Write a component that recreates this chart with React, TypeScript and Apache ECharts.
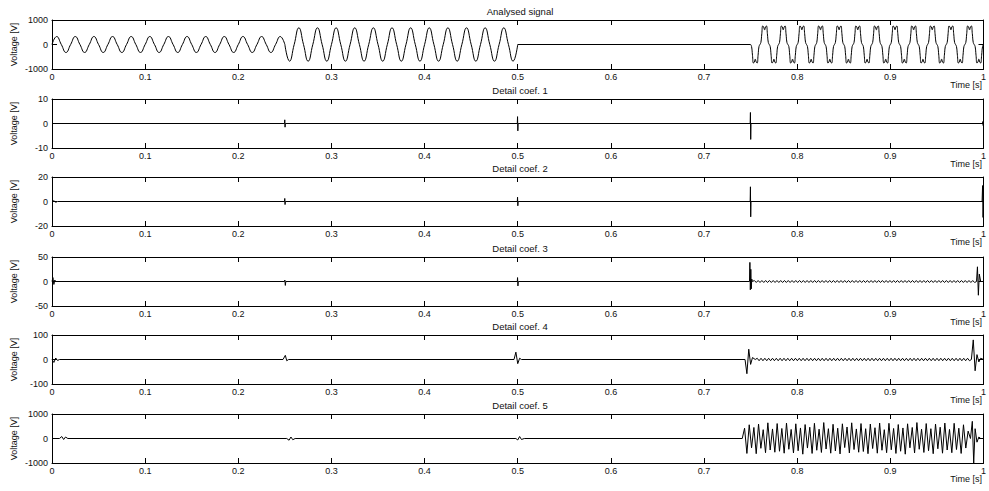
import React, { useEffect, useRef } from "react";
import * as echarts from "echarts";

const panelTitles = ["Analysed signal", "Detail coef. 1", "Detail coef. 2", "Detail coef. 3", "Detail coef. 4", "Detail coef. 5"];
const panelLimits = [1000, 10, 20, 50, 100, 1000];
const xTickValues = [0, 0.1, 0.2, 0.3, 0.4, 0.5, 0.6, 0.7, 0.8, 0.9, 1];
const xAxisName = "Time [s]";
const yAxisName = "Voltage [V]";

// ---- Analysed signal (values read at quarter periods / extrema) ----
const sigNormalValues = [0, 325, 0, -325, 0, 325, 0, -325, 0, 325, 0, -325, 0, 325, 0, -325, 0, 325, 0, -325, 0, 325, 0, -325, 0, 325, 0, -325, 0, 325, 0, -325, 0, 325, 0, -325, 0, 325, 0, -325, 0, 325, 0, -325, 0, 325, 0, -325, 0, 325, 0];
const sigSwellValues = [0, -680, 0, 680, 0, -680, 0, 680, 0, -680, 0, 680, 0, -680, 0, 680, 0, -680, 0, 680, 0, -680, 0, 680, 0, -680, 0, 680, 0, -680, 0, 680, 0, -680, 0, 680, 0, -680, 0, 680, 0, -680, 0, 680, 0, -680, 0, 680, 0, -680, 0];
const sigOutagePoints = [[0.5, 0], [0.75, 0]];
const sigHarmValues = [
  0, -82, -441, -757, -713, -600, -713, -757, -441, -82, 0, 82, 441, 757, 713, 600, 713, 757, 441, 82,
  0, -82, -441, -757, -713, -600, -713, -757, -441, -82, 0, 82, 441, 757, 713, 600, 713, 757, 441, 82,
  0, -82, -441, -757, -713, -600, -713, -757, -441, -82, 0, 82, 441, 757, 713, 600, 713, 757, 441, 82,
  0, -82, -441, -757, -713, -600, -713, -757, -441, -82, 0, 82, 441, 757, 713, 600, 713, 757, 441, 82,
  0, -82, -441, -757, -713, -600, -713, -757, -441, -82, 0, 82, 441, 757, 713, 600, 713, 757, 441, 82,
  0, -82, -441, -757, -713, -600, -713, -757, -441, -82, 0, 82, 441, 757, 713, 600, 713, 757, 441, 82,
  0, -82, -441, -757, -713, -600, -713, -757, -441, -82, 0, 82, 441, 757, 713, 600, 713, 757, 441, 82,
  0, -82, -441, -757, -713, -600, -713, -757, -441, -82, 0, 82, 441, 757, 713, 600, 713, 757, 441, 82,
  0, -82, -441, -757, -713, -600, -713, -757, -441, -82, 0, 82, 441, 757, 713, 600, 713, 757, 441, 82,
  0, -82, -441, -757, -713, -600, -713, -757, -441, -82, 0, 82, 441, 757, 713, 600, 713, 757, 441, 82,
  0, -82, -441, -757, -713, -600, -713, -757, -441, -82, 0, 82, 441, 757, 713, 600, 713, 757, 441, 82,
  0, -82, -441, -757, -713, -600, -713, -757, -441, -82, 0, 82, 441, 757, 713, 600, 713, 757, 441, 82,
  0, -82, -441, -757, -713, -600, -713, -757, -441, -82, 0,
];

// ---- Detail coef. 1 ----
const d1Points = [[0, 0], [0.2496, 0], [0.2499, 1.5], [0.2502, -1.5], [0.2505, 0], [0.4995, 0], [0.4998, 2.8], [0.5001, -3], [0.5004, 0], [0.7495, 0], [0.7498, 4.5], [0.7501, -6.5], [0.7504, 0], [0.999, 0], [0.9993, 0.8], [0.9996, -0.8], [1, 0]];

// ---- Detail coef. 2 ----
const d2Points = [[0, 0], [0.002, 0.6], [0.004, -0.6], [0.006, 0], [0.2496, 0], [0.2499, 2.5], [0.2502, -2.5], [0.2505, 0], [0.4995, 0], [0.4998, 3.5], [0.5001, -3.5], [0.5004, 0], [0.7495, 0], [0.7498, 12], [0.7501, -12.5], [0.7504, 0], [0.9985, 0], [0.999, 13], [0.9995, -13], [1, 0]];

// ---- Detail coef. 3 ----
const d3HeadPoints = [[0, 0], [0.001, 8], [0.002, -6], [0.003, 3], [0.004, 0], [0.2495, 0], [0.25, 3], [0.2505, -8], [0.251, 0], [0.4995, 0], [0.4998, 8], [0.5002, -9], [0.5006, 0], [0.7488, 0], [0.7492, 39], [0.7497, -17], [0.7502, 25], [0.7507, -15], [0.7512, 5], [0.752, 0]];
const d3OscValues = [0, 2, -2, 2, -2, 2, -2, 2, -2, 2, -2, 2, -2, 2, -2, 2, -2, 2, -2, 2, -2, 2, -2, 2, -2, 2, -2, 2, -2, 2, -2, 2, -2, 2, -2, 2, -2, 2, -2, 2, -2, 2, -2, 2, -2, 2, -2, 2, -2, 2, -2, 2, -2, 2, -2, 2, -2, 2, -2, 2, -2, 2, -2, 2, -2, 2, -2, 2, -2, 2, -2, 2, -2, 2, -2, 2, -2, 2, -2, 2, -2, 2, -2, 2, -2, 2, -2, 2, -2, 2, -2, 2, -2, 2, -2, 2, -2, 2, -2, 2, -2, 2, -2, 2, -2, 2, -2, 2, -2, 2, -2, 2, -2, 2, -2, 2, -2, 2, -2, 0];
const d3TailPoints = [[0.9925, 0], [0.9935, 30], [0.9945, -28], [0.9955, 15], [0.997, 0], [1, 0]];

// ---- Detail coef. 4 ----
const d4HeadPoints = [[0, 0], [0.002, -12], [0.004, 6], [0.006, -4], [0.008, 0], [0.248, 0], [0.2505, 17], [0.252, -5], [0.254, 0], [0.496, 0], [0.498, 30], [0.5, -17], [0.502, 5], [0.504, 0], [0.744, 0], [0.746, -58], [0.748, 42], [0.75, -20], [0.752, 8], [0.755, 0]];
const d4OscValues = [0, 5, -5, 5, -5, 5, -5, 5, -5, 5, -5, 5, -5, 5, -5, 5, -5, 5, -5, 5, -5, 5, -5, 5, -5, 5, -5, 5, -5, 5, -5, 5, -5, 5, -5, 5, -5, 5, -5, 5, -5, 5, -5, 5, -5, 5, -5, 5, -5, 5, -5, 5, -5, 5, -5, 5, -5, 5, -5, 5, -5, 5, -5, 5, -5, 5, -5, 5, -5, 5, -5, 5, -5, 5, -5, 5, -5, 5, -5, 5, -5, 5, -5, 5, -5, 5, -5, 5, -5, 5, -5, 5, -5, 5, -5, 5, -5, 5, -5, 5, -5, 5, -5, 5, -5, 5, -5, 5, -5, 5, -5, 5, -5, 0];
const d4TailPoints = [[0.987, 0], [0.989, 80], [0.991, -46], [0.993, 20], [0.995, -10], [0.997, 5], [1, 0]];

// ---- Detail coef. 5 ----
const d5HeadPoints = [[0, 0], [0.008, 0], [0.0105, 80], [0.0125, -40], [0.0145, 60], [0.017, 0], [0.252, 0], [0.2545, -70], [0.2565, 60], [0.2585, -50], [0.261, 0], [0.498, 0], [0.5, -60], [0.502, 80], [0.504, -40], [0.507, 0]];
const d5OscValues = [
  0, 420, -610, 560, -380, 450, -620, 590, -400, 360, -580, 640, -470, 390, -560, 610, -520, 410, -600, 630,
  -440, 370, -590, 600, -500, 430, -640, 570, -390, 460, -610, 620, -480, 380, -570, 650, -430, 400, -600, 580,
  -510, 420, -630, 600, -370, 470, -590, 640, -450, 390, -560, 610, -530, 400, -620, 590, -410, 440, -600, 630,
  -480, 360, -580, 620, -460, 410, -610, 570, -520, 430, -640, 600, -380, 450, -590, 650, -440, 380, -570, 610,
  -500, 400, -620, 590, -420, 460, -600, 630, -470, 370, -580, 620, -450, 420, -610, 560, -390, 300, 0,
];
const d5TailPoints = [[0.986, 0], [0.988, 700], [0.9895, -1000], [0.991, 400], [0.993, -150], [0.995, 60], [0.997, 0], [1, 0]];

const FONT = "'Liberation Sans', Arial, Helvetica, sans-serif";
const GRID_LEFT = 52;
const GRID_WIDTH = 936;
const GRID_HEIGHT = 49;
const GRID_TOPS = [20, 99, 177, 257, 335, 414];

function spread(start: number, end: number, values: number[]): number[][] {
  const n = values.length;
  return values.map((v, i) => [start + ((end - start) * i) / (n - 1), v]);
}

function fmtX(v: number): string {
  if (Math.abs(v) < 1e-9) return "0";
  if (Math.abs(v - 1) < 1e-9) return "1";
  return v.toFixed(1);
}

function fmtY(v: number): string {
  return String(Math.round(v));
}

export default function App() {
  const ref = useRef<HTMLDivElement>(null);
  useEffect(() => {
    if (!ref.current) return;
    const chart = echarts.init(ref.current, undefined, { renderer: "svg" });

    const grids: any[] = [];
    const xAxes: any[] = [];
    const yAxes: any[] = [];
    const graphics: any[] = [];

    panelTitles.forEach((title, i) => {
      const top = GRID_TOPS[i];
      const lim = panelLimits[i];
      grids.push({ left: GRID_LEFT, top, width: GRID_WIDTH, height: GRID_HEIGHT, show: false });
      const baseX = {
        type: "value", gridIndex: i, min: xTickValues[0], max: xTickValues[xTickValues.length - 1], interval: 0.1,
        splitLine: { show: false },
        axisTick: { show: true, inside: true, length: 5, lineStyle: { color: "#000", width: 1 } },
      };
      xAxes.push({
        ...baseX, position: "bottom",
        axisLine: { show: true, onZero: false, lineStyle: { color: "#000", width: 1 } },
        axisLabel: { show: true, fontSize: 9, color: "#111", fontFamily: FONT, margin: 3, formatter: fmtX, showMinLabel: true, showMaxLabel: true },
      });
      xAxes.push({
        ...baseX, position: "top",
        axisLine: { show: true, onZero: false, lineStyle: { color: "#000", width: 1 } },
        axisLabel: { show: false },
      });
      const baseY = {
        type: "value", gridIndex: i, min: -lim, max: lim, interval: lim,
        splitLine: { show: false },
        axisTick: { show: true, inside: true, length: 5, lineStyle: { color: "#000", width: 1 } },
        axisLine: { show: true, onZero: false, lineStyle: { color: "#000", width: 1 } },
      };
      yAxes.push({
        ...baseY, position: "left",
        axisLabel: { show: true, fontSize: 9, color: "#111", fontFamily: FONT, margin: 4, formatter: fmtY, showMinLabel: true, showMaxLabel: true },
      });
      yAxes.push({ ...baseY, position: "right", axisLabel: { show: false } });

      graphics.push({
        type: "text", x: GRID_LEFT + GRID_WIDTH / 2, y: top - 9,
        style: { text: title, fontSize: 9.5, fontFamily: FONT, fill: "#111", textAlign: "center", textVerticalAlign: "middle" },
      });
      graphics.push({
        type: "text", x: 982, y: top + GRID_HEIGHT + 16,
        style: { text: xAxisName, fontSize: 9, fontFamily: FONT, fill: "#111", textAlign: "right", textVerticalAlign: "middle" },
      });
      graphics.push({
        type: "text", x: 14, y: top + GRID_HEIGHT / 2, rotation: Math.PI / 2,
        style: { text: yAxisName, fontSize: 9, fontFamily: FONT, fill: "#111", textAlign: "center", textVerticalAlign: "middle" },
      });
    });

    const line = (panel: number, data: number[][], smooth: boolean | number) => ({
      type: "line", xAxisIndex: panel * 2, yAxisIndex: panel * 2, data, smooth,
      showSymbol: false, symbol: "none", silent: true,
      lineStyle: { color: "#000", width: 1 },
    });

    const series = [
      line(0, spread(0, 0.25, sigNormalValues), true),
      line(0, spread(0.25, 0.5, sigSwellValues), true),
      line(0, sigOutagePoints, false),
      line(0, spread(0.75, 1.0, sigHarmValues), true),
      line(1, d1Points, false),
      line(2, d2Points, false),
      line(3, [...d3HeadPoints, ...spread(0.752, 0.9925, d3OscValues), ...d3TailPoints], false),
      line(4, [...d4HeadPoints, ...spread(0.755, 0.987, d4OscValues), ...d4TailPoints], false),
      line(5, [...d5HeadPoints, ...spread(0.741, 0.986, d5OscValues), ...d5TailPoints], false),
    ];

    chart.setOption({
      animation: false,
      backgroundColor: "#fff",
      grid: grids,
      xAxis: xAxes,
      yAxis: yAxes,
      series,
      graphic: graphics,
    });
    return () => chart.dispose();
  }, []);
  return <div ref={ref} style={{ position: "fixed", left: 0, top: 0, width: 989, height: 491 }} />;
}
